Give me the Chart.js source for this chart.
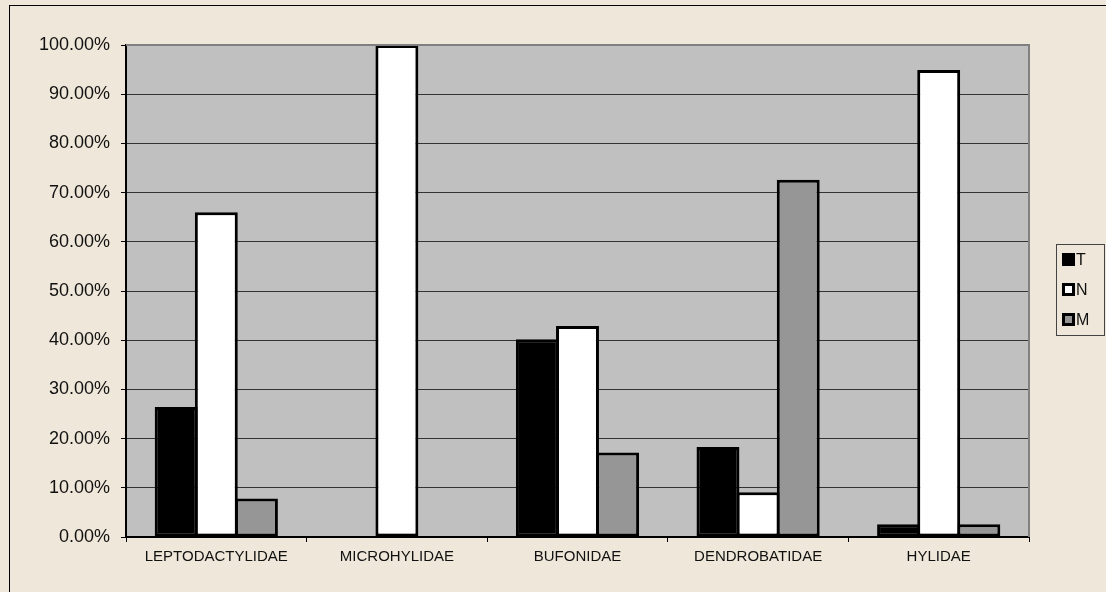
<!DOCTYPE html>
<html>
<head>
<meta charset="utf-8">
<script src="https://cdn.jsdelivr.net/npm/chart.js@4/dist/chart.umd.min.js"></script>
<style>
  html, body { margin: 0; padding: 0; background: #efe7d9; }
  #wrap { position: relative; width: 1106px; height: 592px; overflow: hidden; }
  #frame { position: absolute; left: 9px; top: 5px; width: 1110px; height: 600px; border: 1px solid #000; box-sizing: border-box; }
  canvas { position: absolute; left: 0; top: 0; }
  #legend { position: absolute; left: 1056px; top: 244px; width: 49px; height: 92px; border: 1px solid #444;
            box-sizing: border-box; font-family: "Liberation Sans", Arial, sans-serif; font-size: 16px; color: #111; }
  #legend div { position: absolute; left: 5px; height: 18px; line-height: 18px; }
  #legend span { display: inline-block; width: 7px; height: 7px; border: 3px solid #000; margin-right: 1px; vertical-align: -1px; }
</style>
</head>
<body>
<div id="wrap">
  <div id="frame"></div>
  <canvas id="chart" width="1106" height="592"></canvas>
  <div id="legend"></div>
</div>
<script>
// family names on the x axis
const families = ['LEPTODACTYLIDAE', 'MICROHYLIDAE', 'BUFONIDAE', 'DENDROBATIDAE', 'HYLIDAE'];
// percentages per series
const seriesT = [26.4, 0, 40.2, 18.3, 2.6];
const seriesN = [66.0, 100, 42.9, 9.1, 94.9];
const seriesM = [7.8, 0, 17.2, 72.6, 2.6];
const seriesNames = ['T', 'N', 'M'];
const seriesColors = ['#000000', '#ffffff', '#969696'];
const yTicks = [0, 10, 20, 30, 40, 50, 60, 70, 80, 90, 100];

const plotBg = {
    id: 'plotBg',
    beforeDraw(chart) {
        const { ctx, chartArea: a } = chart;
        ctx.save();
        ctx.fillStyle = '#c0c0c0';
        ctx.fillRect(a.left, a.top, a.right - a.left, a.bottom - a.top);
        ctx.restore();
    },
    afterDraw(chart) {
        const { ctx, chartArea: a } = chart;
        ctx.save();
        ctx.strokeStyle = '#808080';
        ctx.lineWidth = 2;
        ctx.beginPath();
        ctx.moveTo(a.left, a.top);
        ctx.lineTo(a.right, a.top);
        ctx.lineTo(a.right, a.bottom);
        ctx.stroke();
        ctx.restore();
    }
};

const allSeries = [seriesT, seriesN, seriesM];
const datasets = allSeries.map((vals, i) => ({
    label: seriesNames[i],
    data: vals,
    backgroundColor: seriesColors[i],
    borderColor: '#000',
    borderWidth: 3,
    borderSkipped: false,
    categoryPercentage: 3 / 4.5,
    barPercentage: 1.07
}));

const ctx = document.getElementById('chart').getContext('2d');
new Chart(ctx, {
    type: 'bar',
    data: { labels: families, datasets: datasets },
    plugins: [plotBg],
    options: {
        responsive: false,
        animation: false,
        layout: { padding: { left: 0, top: 45, right: 77, bottom: 0 } },
        plugins: { legend: { display: false }, tooltip: { enabled: false } },
        scales: {
            x: {
                afterFit: s => { s.height = 55; },
                grid: { offset: true, drawOnChartArea: false, tickLength: 5, color: '#000' },
                border: { color: '#000', width: 2 },
                ticks: { color: '#111', padding: 6, font: { family: '"Liberation Sans", Arial', size: 15 }, maxRotation: 0 }
            },
            y: {
                min: 0, max: 100,
                afterFit: s => { s.width = 126; },
                afterBuildTicks: s => { s.ticks = yTicks.map(v => ({ value: v })); },
                grid: { color: '#333333', lineWidth: 1, tickLength: 5, tickColor: '#000' },
                border: { color: '#000', width: 2 },
                ticks: {
                    color: '#111', padding: 11,
                    font: { family: '"Liberation Sans", Arial', size: 18 },
                    callback: v => v.toFixed(2) + '%'
                }
            }
        }
    }
});

// legend
const legend = document.getElementById('legend');
seriesNames.forEach((n, i) => {
    const d = document.createElement('div');
    d.style.top = (6 + i * 30) + 'px';
    d.innerHTML = '<span style="background:' + seriesColors[i] + '"></span>' + n;
    legend.appendChild(d);
});
</script>
</body>
</html>
